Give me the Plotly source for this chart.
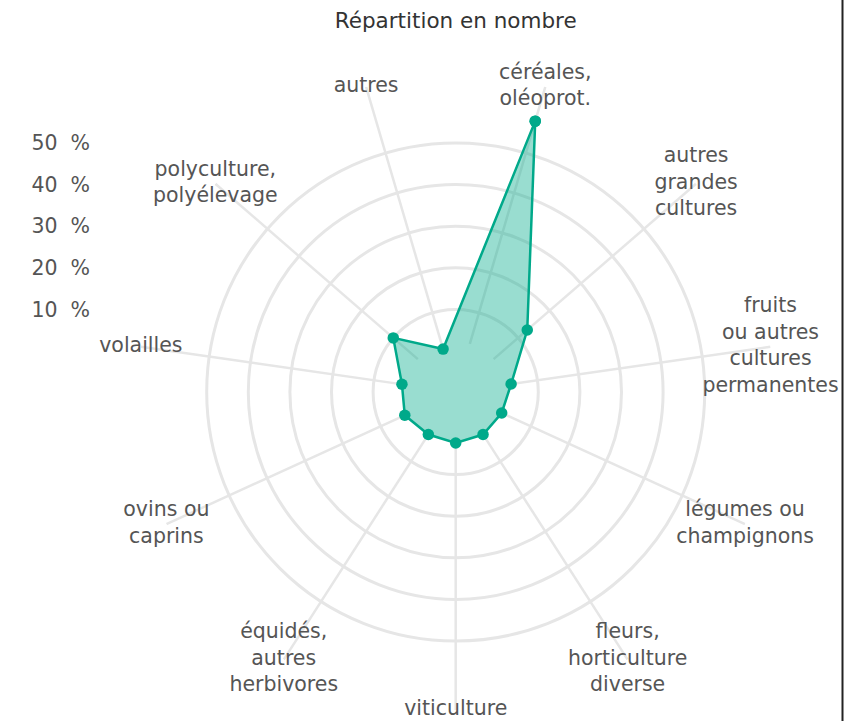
import plotly.graph_objects as go

# ---- data ----
categories = ["céréales", "autres grandes cultures", "fruits", "légumes", "fleurs",
              "viticulture", "équidés", "ovins", "volailles", "polyculture", "autres"]
category_labels = ["céréales,<br>oléoprot.", "autres<br>grandes<br>cultures",
                   "fruits<br>ou autres<br>cultures<br>permanentes",
                   "légumes ou<br>champignons", "fleurs,<br>horticulture<br>diverse",
                   "viticulture", "équidés,<br>autres<br>herbivores", "ovins ou<br>caprins",
                   "volailles", "polyculture,<br>polyélevage", "autres"]
values = [58.0, 12.9, 3.6, 2.3, 2.3, 2.4, 2.3, 3.6, 3.2, 10.0, 0.9]
tick_values = [10, 20, 30, 40, 50]
tick_labels = ["10\u00a0\u00a0%", "20\u00a0\u00a0%", "30\u00a0\u00a0%", "40\u00a0\u00a0%", "50\u00a0\u00a0%"]
title_text = "Répartition en nombre"

# ---- geometry / style (body margin removed below, figure fills the window) ----
W, H = 846, 721
CX, CY = 455.7, 392.0           # polar centre, px
PX_PER_UNIT = 4.16
ZERO_PX = 41.0
R_MAX = 66.6
R_MIN = -ZERO_PX / PX_PER_UNIT
R_PX = ZERO_PX + R_MAX * PX_PER_UNIT
SPOKE_START = 2.2
GREEN = "#00A98A"
GRID = "#e6e6e6"
FONT = "DejaVu Sans"
LABEL_COLOR = "#555555"
FS = 20.5

dom_x = [(CX - R_PX) / W, (CX + R_PX) / W]
dom_y = [(H - (CY + R_PX)) / H, (H - (CY - R_PX)) / H]

fig = go.Figure()

# spokes
sp_r, sp_t = [], []
for c in categories:
    sp_r += [SPOKE_START, R_MAX, None]
    sp_t += [c, c, None]
fig.add_trace(go.Scatterpolar(r=sp_r, theta=sp_t, mode="lines",
                              line=dict(color=GRID, width=2.5),
                              connectgaps=False, hoverinfo="skip", showlegend=False))

# data
fig.add_trace(go.Scatterpolar(
    r=values + [values[0]], theta=categories + [categories[0]],
    mode="lines+markers", fill="toself", fillcolor="rgba(0,169,138,0.4)",
    line=dict(color=GREEN, width=2.5), marker=dict(color=GREEN, size=11.5),
    cliponaxis=False, showlegend=False))

# category labels
fig.add_trace(go.Scatterpolar(
    r=[R_MAX] * len(categories), theta=categories, mode="text",
    text=category_labels, textposition="middle center",
    textfont=dict(family=FONT, size=FS, color=LABEL_COLOR),
    cliponaxis=False, hoverinfo="skip", showlegend=False))

# invisible cartesian trace carrying the % scale on the left
fig.add_trace(go.Scatter(x=[None], y=[None], showlegend=False, hoverinfo="skip"))

y_bottom = 2 * R_MIN - R_MAX
BORDER_X = 842.5 / W
fig.update_layout(
    width=W, height=H,
    margin=dict(l=0, r=0, t=0, b=0),
    paper_bgcolor="white", plot_bgcolor="rgba(0,0,0,0)",
    font=dict(family=FONT, color=LABEL_COLOR),
    title=dict(text=title_text, x=CX / W, xanchor="center", y=1 - 20 / H, yanchor="middle",
               font=dict(family=FONT, size=21.5, color="#333333")),
    polar=dict(
        domain=dict(x=dom_x, y=dom_y), hole=0, bgcolor="rgba(0,0,0,0)",
        radialaxis=dict(range=[R_MIN, R_MAX], tickvals=tick_values, showticklabels=False,
                        showline=False, ticks="", gridcolor=GRID, gridwidth=2.5),
        angularaxis=dict(type="category", categoryarray=categories, direction="clockwise",
                         rotation=90 - 360 / len(categories) / 2, showgrid=False,
                         showline=False, showticklabels=False, ticks=""),
    ),
    xaxis=dict(visible=False, domain=[0, 0.01]),
    yaxis=dict(anchor="free", position=90 / W, domain=dom_y, range=[y_bottom, R_MAX],
               tickvals=tick_values, ticktext=tick_labels, showgrid=False, zeroline=False,
               showline=False, ticks="", tickfont=dict(family=FONT, size=FS, color=LABEL_COLOR)),
    shapes=[dict(type="line", xref="paper", yref="paper", layer="above",
                 x0=BORDER_X, x1=BORDER_X, y0=0, y1=1,
                 line=dict(color="#222222", width=2))],
)

fig.write_html("out.html", config={"displayModeBar": False},
               post_script="document.body.style.margin='0';document.body.style.overflow='hidden';")
